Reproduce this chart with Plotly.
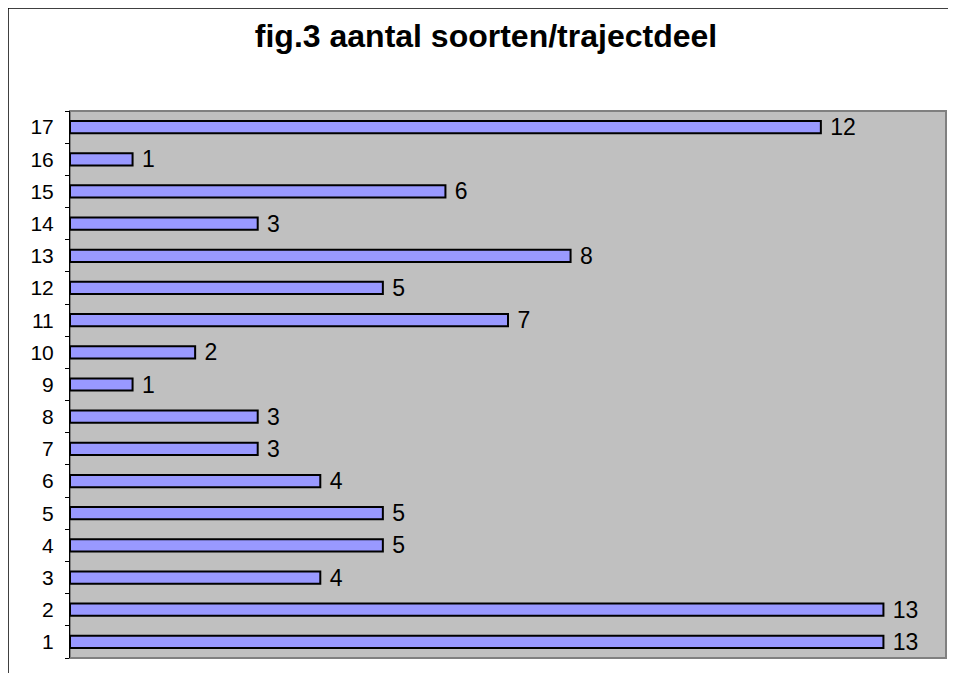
import plotly.graph_objects as go

trajectdeel = [str(i) for i in range(1, 18)]
aantal = [13, 13, 4, 5, 5, 4, 3, 3, 1, 2, 7, 5, 8, 3, 6, 1, 12]

fig = go.Figure()
fig.add_trace(go.Bar(
    x=aantal, y=trajectdeel, orientation="h",
    marker=dict(color="#9999FF", line=dict(color="black", width=2)),
    text=aantal, texttemplate=" %{x}", textposition="outside",
    constraintext="none",
    textfont=dict(family="Liberation Sans, Arial", size=23, color="black"),
    cliponaxis=False, width=0.38,
))

# page body adds an 8px offset; figure coords below account for it
L, R, T, B = 62, 18, 103, 23
W, H = 956, 673
pw, ph = W - L - R, H - T - B

fig.update_layout(
    width=W, height=H,
    margin=dict(l=L, r=R, t=T, b=B),
    paper_bgcolor="white", plot_bgcolor="#C0C0C0",
    showlegend=False,
    title=dict(text="<b>fig.3 aantal soorten/trajectdeel</b>", x=0.5, xanchor="center",
               y=1 - 28 / H, yanchor="middle",
               font=dict(family="Liberation Sans, Arial", size=32, color="black")),
    xaxis=dict(range=[0, 14], visible=False, showgrid=False, zeroline=False),
    yaxis=dict(type="category", categoryorder="array", categoryarray=trajectdeel,
               tickson="boundaries", ticks="outside", ticklen=4, tickcolor="black",
               ticklabelstandoff=11, tickangle=0,
               showline=True, linecolor="black", linewidth=1, showgrid=False,
               tickfont=dict(family="Liberation Sans, Arial", size=21, color="black")),
    shapes=[
        dict(type="rect", xref="paper", yref="paper", x0=0, x1=1, y0=0, y1=1,
             line=dict(color="#808080", width=2), layer="below"),
        dict(type="line", xref="paper", yref="paper",
             x0=-L / pw, x1=-L / pw, y0=1 + T / ph, y1=-B / ph,
             line=dict(color="black", width=1.5)),
        dict(type="line", xref="paper", yref="paper",
             x0=-L / pw, x1=1 + R / pw, y0=1 + T / ph, y1=1 + T / ph,
             line=dict(color="black", width=1.5)),
    ],
)
fig.write_html("out.html")
